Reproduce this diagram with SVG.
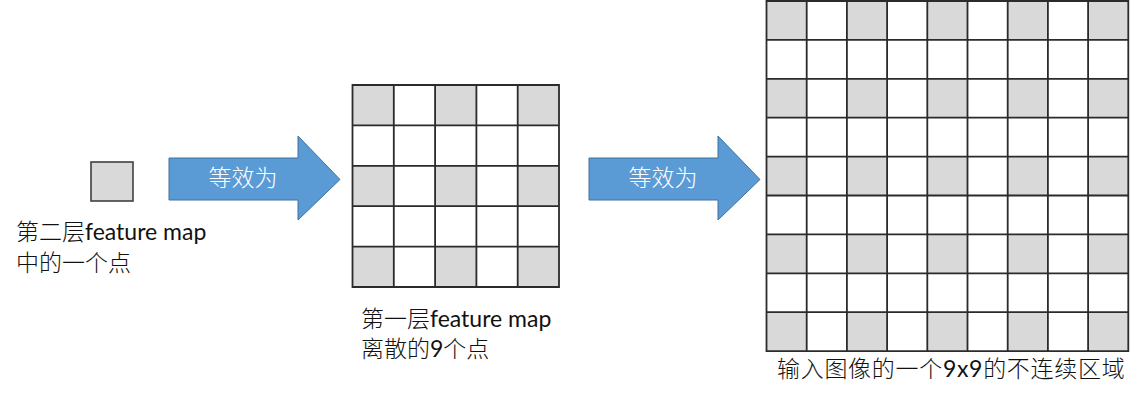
<svg xmlns="http://www.w3.org/2000/svg" width="1140" height="400" viewBox="0 0 1140 400">
  <defs>
    <style>
      .lbl { font-family: "Lato", "Noto Sans CJK SC", sans-serif; font-size: 23px; font-weight: 300; fill: #111; }
      .lat { font-weight: 400; }
      .arrtxt { font-family: "Noto Sans CJK SC", sans-serif; font-size: 23px; font-weight: 300; fill: #ffffff; text-anchor: middle; }
      .cell { fill: #d9d9d9; stroke: none; }
      .grid { fill: none; stroke: #2b2b2b; stroke-width: 1.8; }
      .arrow { fill: #5b9bd5; stroke: #41719c; stroke-width: 1; }
    </style>
  </defs>
  <rect width="1140" height="400" fill="#ffffff"/>

  <g id="node-point">
    <rect x="91" y="162" width="42" height="39" fill="#d9d9d9" stroke="#404040" stroke-width="1.6"/>
    <text class="lbl" x="16" y="240">第二层<tspan class="lat">feature map</tspan></text>
    <text class="lbl" x="16" y="271">中的一个点</text>
  </g>

  <g id="node-layer1">
    <rect class="cell" x="352.5" y="85" width="41.3" height="40.4"/>
    <rect class="cell" x="435.1" y="85" width="41.3" height="40.4"/>
    <rect class="cell" x="517.7" y="85" width="41.3" height="40.4"/>
    <rect class="cell" x="352.5" y="165.8" width="41.3" height="40.4"/>
    <rect class="cell" x="435.1" y="165.8" width="41.3" height="40.4"/>
    <rect class="cell" x="517.7" y="165.8" width="41.3" height="40.4"/>
    <rect class="cell" x="352.5" y="246.6" width="41.3" height="40.4"/>
    <rect class="cell" x="435.1" y="246.6" width="41.3" height="40.4"/>
    <rect class="cell" x="517.7" y="246.6" width="41.3" height="40.4"/>
    <path class="grid" d="M352.5 85H559V287H352.5Z M393.8 85V287 M435.1 85V287 M476.4 85V287 M517.7 85V287 M352.5 125.4H559 M352.5 165.8H559 M352.5 206.2H559 M352.5 246.6H559"/>
    <text class="lbl" x="361" y="327">第一层<tspan class="lat">feature map</tspan></text>
    <text class="lbl" x="361" y="357">离散的<tspan class="lat">9</tspan>个点</text>
  </g>

  <g id="node-input">
    <g>
      <rect class="cell" x="766.5" y="1" width="40.2" height="38.9"/>
      <rect class="cell" x="846.9" y="1" width="40.2" height="38.9"/>
      <rect class="cell" x="927.3" y="1" width="40.2" height="38.9"/>
      <rect class="cell" x="1007.7" y="1" width="40.2" height="38.9"/>
      <rect class="cell" x="1088.1" y="1" width="40.2" height="38.9"/>
      <rect class="cell" x="766.5" y="78.8" width="40.2" height="38.9"/>
      <rect class="cell" x="846.9" y="78.8" width="40.2" height="38.9"/>
      <rect class="cell" x="927.3" y="78.8" width="40.2" height="38.9"/>
      <rect class="cell" x="1007.7" y="78.8" width="40.2" height="38.9"/>
      <rect class="cell" x="1088.1" y="78.8" width="40.2" height="38.9"/>
      <rect class="cell" x="766.5" y="156.6" width="40.2" height="38.9"/>
      <rect class="cell" x="846.9" y="156.6" width="40.2" height="38.9"/>
      <rect class="cell" x="927.3" y="156.6" width="40.2" height="38.9"/>
      <rect class="cell" x="1007.7" y="156.6" width="40.2" height="38.9"/>
      <rect class="cell" x="1088.1" y="156.6" width="40.2" height="38.9"/>
      <rect class="cell" x="766.5" y="234.4" width="40.2" height="38.9"/>
      <rect class="cell" x="846.9" y="234.4" width="40.2" height="38.9"/>
      <rect class="cell" x="927.3" y="234.4" width="40.2" height="38.9"/>
      <rect class="cell" x="1007.7" y="234.4" width="40.2" height="38.9"/>
      <rect class="cell" x="1088.1" y="234.4" width="40.2" height="38.9"/>
      <rect class="cell" x="766.5" y="312.2" width="40.2" height="38.9"/>
      <rect class="cell" x="846.9" y="312.2" width="40.2" height="38.9"/>
      <rect class="cell" x="927.3" y="312.2" width="40.2" height="38.9"/>
      <rect class="cell" x="1007.7" y="312.2" width="40.2" height="38.9"/>
      <rect class="cell" x="1088.1" y="312.2" width="40.2" height="38.9"/>
    </g>
    <path class="grid" d="M766.5 1H1128.3V351.1H766.5Z M806.7 1V351.1 M846.9 1V351.1 M887.1 1V351.1 M927.3 1V351.1 M967.5 1V351.1 M1007.7 1V351.1 M1047.9 1V351.1 M1088.1 1V351.1 M766.5 39.9H1128.3 M766.5 78.8H1128.3 M766.5 117.7H1128.3 M766.5 156.6H1128.3 M766.5 195.5H1128.3 M766.5 234.4H1128.3 M766.5 273.3H1128.3 M766.5 312.2H1128.3"/>
    <text class="lbl" x="777" y="377" letter-spacing="0.7">输入图像的一个<tspan class="lat">9x9</tspan>的不连续区域</text>
  </g>

  <g id="connectors">
    <g id="arrow1">
      <path class="arrow" d="M169 158H298V136L340 179.5L298 220V200H169Z"/>
      <text class="arrtxt" x="243" y="186">等效为</text>
    </g>
    <g id="arrow2">
      <path class="arrow" d="M589 158H718V136L760 179.5L718 220V200H589Z"/>
      <text class="arrtxt" x="663" y="186">等效为</text>
    </g>
  </g>
</svg>
